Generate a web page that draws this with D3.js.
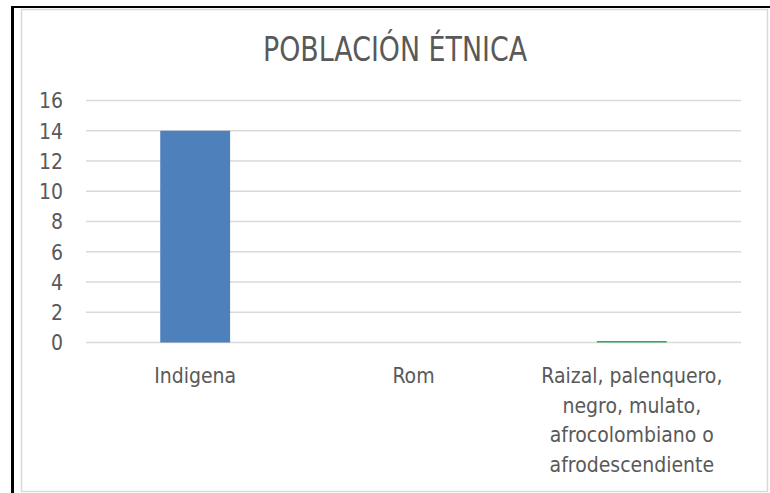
<!DOCTYPE html>
<html><head><meta charset="utf-8">
<script src="https://cdn.jsdelivr.net/npm/d3@7"></script>
<style>body{margin:0;background:#fff}svg{display:block}</style>
</head><body>
<svg id="c" width="770" height="493"></svg>
<script>
const categories = ["Indigena", "Rom", "Raizal, palenquero, negro, mulato, afrocolombiano o afrodescendiente"];
const categoryLines = [["Indigena"], ["Rom"], ["Raizal, palenquero,", "negro, mulato,", "afrocolombiano o", "afrodescendiente"]];
const values = [14, 0, 0.1];
const barColors = ["#4e80bc", "#4e80bc", "#2eaa5c"];
const yTicks = [0, 2, 4, 6, 8, 10, 12, 14, 16];
const title = "POBLACIÓN ÉTNICA";

const svg = d3.select("#c");
const FONT = "'Liberation Sans Narrow','DejaVu Sans Condensed','Liberation Sans',sans-serif";
// outer black frame lines
svg.append("line").attr("x1", 11).attr("x2", 770).attr("y1", 7).attr("y2", 7).attr("stroke", "#000").attr("stroke-width", 2);
svg.append("line").attr("x1", 12.5).attr("x2", 12.5).attr("y1", 6).attr("y2", 493).attr("stroke", "#000").attr("stroke-width", 3);
// chart border
svg.append("rect").attr("x", 21.5).attr("y", 9.5).attr("width", 746).attr("height", 482)
  .attr("fill", "#fff").attr("stroke", "#d9d9d9").attr("stroke-width", 1.5);

const x = d3.scaleBand().domain(categories).range([86, 741]).paddingInner(0.68).paddingOuter(0.34);
const y = d3.scaleLinear().domain([0, 16]).range([342.5, 100.5]);

// gridlines
svg.append("g").selectAll("line").data(yTicks).join("line")
  .attr("x1", 86).attr("x2", 741).attr("y1", d => y(d)).attr("y2", d => y(d))
  .attr("stroke", "#d9d9d9").attr("stroke-width", 1.5);

// y axis labels
const yAxis = d3.axisLeft(y).tickValues(yTicks).tickSize(0).tickPadding(0);
const gy = svg.append("g").attr("transform", "translate(63,0)").call(yAxis);
gy.select(".domain").remove();
gy.selectAll("text").attr("font-family", FONT).attr("font-size", 21).attr("fill", "#595959").attr("dy", "0.35em");

// bars
svg.append("g").selectAll("rect").data(categories).join("rect")
  .attr("x", d => x(d)).attr("width", x.bandwidth())
  .attr("y", (d, i) => y(values[i])).attr("height", (d, i) => y(0) - y(values[i]))
  .attr("fill", (d, i) => barColors[i]);

// category labels
const gx = svg.append("g");
categories.forEach((c, i) => {
  const t = gx.append("text").attr("text-anchor", "middle").attr("font-family", FONT)
    .attr("font-size", 21).attr("fill", "#595959");
  categoryLines[i].forEach((ln, j) => {
    t.append("tspan").attr("x", x(c) + x.bandwidth() / 2).attr("y", 383 + j * 29.5).text(ln);
  });
});

// title
svg.append("text").attr("x", 395).attr("y", 61).attr("text-anchor", "middle")
  .attr("font-family", FONT).attr("font-size", 33).attr("fill", "#595959")
  .attr("textLength", 264).attr("lengthAdjust", "spacingAndGlyphs").text(title);
</script>
</body></html>
